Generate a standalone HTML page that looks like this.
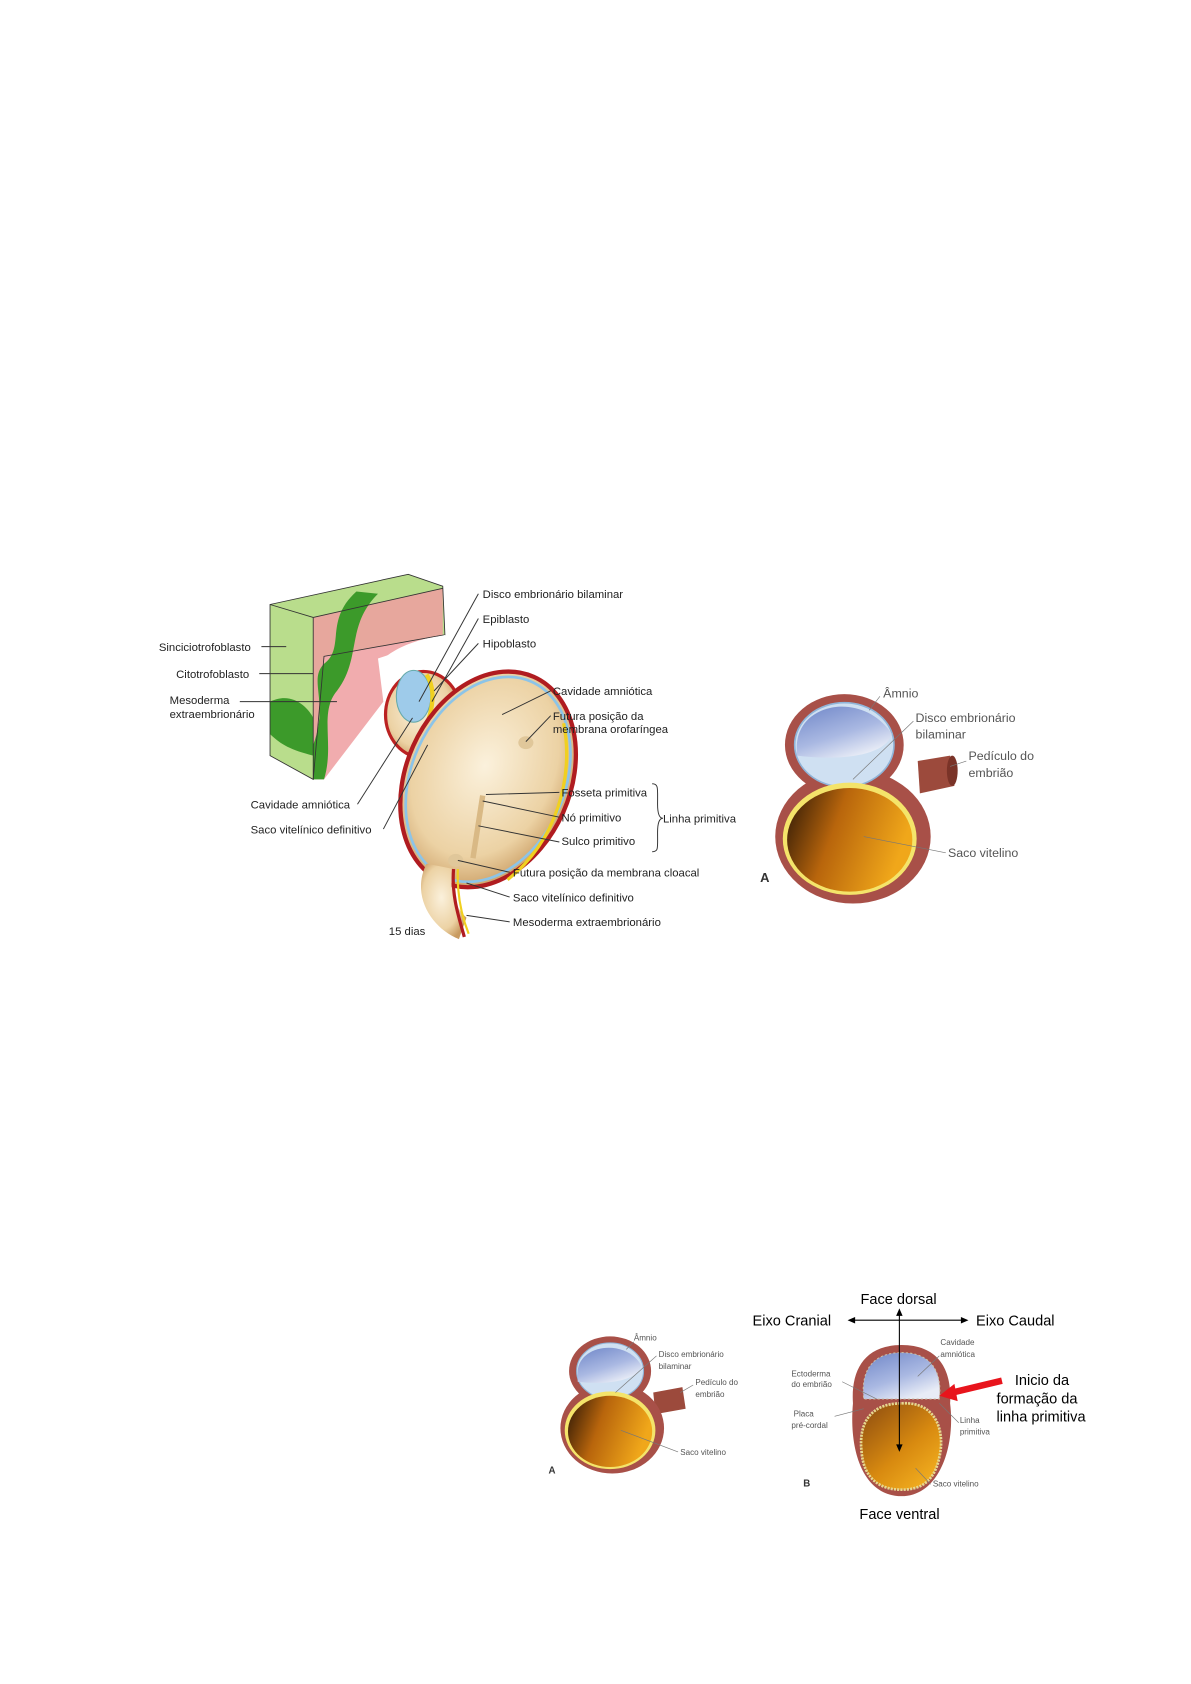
<!DOCTYPE html>
<html><head><meta charset="utf-8"><style>
html,body{margin:0;padding:0;background:#fff;}
svg{display:block;}
text{font-family:"Liberation Sans",Arial,sans-serif;fill:#222;}
.s{font-size:10.5px;}
.xs{font-size:7.5px;fill:#555;}
.m{font-size:13.5px;fill:#000;}
.ln{stroke:#333;stroke-width:0.9;fill:none;}
.lt{stroke:#777;stroke-width:0.6;fill:none;}
</style></head><body>
<svg width="1191" height="1684" viewBox="0 0 1103 1560" xmlns="http://www.w3.org/2000/svg">
<defs>
<radialGradient id="tan" cx="0.45" cy="0.45" r="0.6"><stop offset="0" stop-color="#fbf1dc"/><stop offset="0.7" stop-color="#ecd2a4"/><stop offset="1" stop-color="#c89a60"/></radialGradient>
<linearGradient id="yolk" x1="0" y1="0" x2="1" y2="0.3"><stop offset="0" stop-color="#2a1606"/><stop offset="0.45" stop-color="#b8650c"/><stop offset="1" stop-color="#f0a71a"/></linearGradient>
<linearGradient id="blue" x1="0" y1="0" x2="0.6" y2="1"><stop offset="0" stop-color="#6f86c8"/><stop offset="0.6" stop-color="#a9b8e2"/><stop offset="1" stop-color="#e8ecf6"/></linearGradient>
<linearGradient id="yolkB" x1="0" y1="0" x2="0.8" y2="1"><stop offset="0" stop-color="#8a4a10"/><stop offset="0.6" stop-color="#d88a10"/><stop offset="1" stop-color="#f3b020"/></linearGradient>
</defs>

<!-- block -->
<polygon points="250,560 378,532 410,543 412,588 300,608 290,722 250,700" fill="#b9dd8c"/>
<polygon points="290,572 410,545 410,590 350,610 355,650 300,722 290,722" fill="#ef9ea0" opacity="0.85"/>
<path d="M330,548 C300,575 320,600 300,615 C285,630 305,650 290,690 L290,722 L300,722 C310,690 295,660 312,640 C335,610 320,580 350,550 Z" fill="#3c9a2a"/>
<path d="M250,650 C270,640 285,655 290,665 L290,700 C270,695 260,690 250,680 Z" fill="#3c9a2a"/>
<line x1="290" y1="572" x2="290" y2="722" stroke="#333" stroke-width="0.8"/>
<line x1="250" y1="560" x2="290" y2="572" stroke="#333" stroke-width="0.8"/>
<line x1="290" y1="572" x2="410" y2="545" stroke="#333" stroke-width="0.8"/>
<polygon points="250,560 378,532 410,543 412,588 300,608 290,722 250,700" fill="none" stroke="#333" stroke-width="0.8"/>
<path d="M355,610 C380,590 410,590 412,588 L412,610 C390,612 370,640 355,650 Z" fill="#fff"/>
<!-- small sphere -->
<ellipse cx="392" cy="662" rx="35" ry="40" fill="url(#tan)" stroke="#b22" stroke-width="3"/>
<ellipse cx="383" cy="645" rx="16" ry="24" fill="#9ecbea" stroke="#6aa" stroke-width="1"/>
<path d="M395,625 C405,640 400,665 390,680" stroke="#f0d020" stroke-width="4" fill="none"/>
<!-- big oval -->
<ellipse cx="452" cy="722" rx="76" ry="104" transform="rotate(24 452 722)" fill="url(#tan)" stroke="#b01c20" stroke-width="4"/>
<ellipse cx="452" cy="722" rx="71" ry="99" transform="rotate(24 452 722)" fill="none" stroke="#8cc4e8" stroke-width="2.5"/>
<path d="M522,670 C532,720 515,780 470,815" stroke="#f0d020" stroke-width="3" fill="none"/>
<!-- tail -->
<path d="M395,800 C380,830 400,860 425,870 L432,850 C420,840 415,820 420,805 Z" fill="url(#tan)"/>
<path d="M420,805 C418,830 425,850 430,868" stroke="#b01c20" stroke-width="3" fill="none"/>
<path d="M424,805 C423,830 428,850 434,865" stroke="#f0d020" stroke-width="2" fill="none"/>
<!-- primitive line -->
<line x1="447" y1="737" x2="438" y2="795" stroke="#d9b985" stroke-width="5"/>
<ellipse cx="487" cy="688" rx="7" ry="6" fill="#e0c79a"/>
<ellipse cx="422" cy="797" rx="7" ry="6" fill="#e0c79a"/>

<!-- leader lines -->
<line class="ln" x1="443" y1="550" x2="388" y2="650"/>
<line class="ln" x1="443" y1="573" x2="400" y2="650"/>
<line class="ln" x1="443" y1="596" x2="402" y2="640"/>
<line class="ln" x1="242" y1="599" x2="265" y2="599"/>
<line class="ln" x1="240" y1="624" x2="290" y2="624"/>
<line class="ln" x1="222" y1="650" x2="312" y2="650"/>
<path class="ln" d="M331,745 L382,665"/>
<path class="ln" d="M355,768 L396,690"/>
<line class="ln" x1="510" y1="640" x2="465" y2="662"/>
<line class="ln" x1="510" y1="663" x2="487" y2="687"/>
<line class="ln" x1="518" y1="734" x2="450" y2="736"/>
<line class="ln" x1="518" y1="757" x2="447" y2="742"/>
<line class="ln" x1="518" y1="780" x2="443" y2="765"/>
<line class="ln" x1="472" y1="808" x2="424" y2="797"/>
<line class="ln" x1="472" y1="831" x2="432" y2="818"/>
<line class="ln" x1="472" y1="854" x2="432" y2="848"/>
<path class="ln" d="M604,726 C610,726 609,730 609,745 C609,755 611,758 614,758 C611,758 609,761 609,771 C609,786 610,789 604,789"/>

<text class="s" x="447" y="554">Disco embrionário bilaminar</text>
<text class="s" x="447" y="577">Epiblasto</text>
<text class="s" x="447" y="600">Hipoblasto</text>
<text class="s" x="147" y="603">Sinciciotrofoblasto</text>
<text class="s" x="163" y="628">Citotrofoblasto</text>
<text class="s" x="157" y="652">Mesoderma</text>
<text class="s" x="157" y="665">extraembrionário</text>
<text class="s" x="232" y="749">Cavidade amniótica</text>
<text class="s" x="232" y="772">Saco vitelínico definitivo</text>
<text class="s" x="512" y="644">Cavidade amniótica</text>
<text class="s" x="512" y="667">Futura posição da</text>
<text class="s" x="512" y="679">membrana orofaríngea</text>
<text class="s" x="520" y="738">Fosseta primitiva</text>
<text class="s" x="520" y="761">Nó primitivo</text>
<text class="s" x="520" y="783">Sulco primitivo</text>
<text class="s" x="614" y="762">Linha primitiva</text>
<text class="s" x="475" y="812">Futura posição da membrana cloacal</text>
<text class="s" x="475" y="835">Saco vitelínico definitivo</text>
<text class="s" x="475" y="858">Mesoderma extraembrionário</text>
<text class="s" x="360" y="866">15 dias</text>

<!-- Top right figure A -->
<path d="M850,705 L880,700 L884,728 L852,735 Z" fill="#9c4a3c"/>
<ellipse cx="882" cy="714" rx="5" ry="14" fill="#7a3328"/>
<ellipse cx="790" cy="775" rx="72" ry="62" fill="#a85048"/>
<ellipse cx="782" cy="690" rx="55" ry="47" fill="#a85048"/>
<ellipse cx="782" cy="690" rx="46" ry="39" fill="#cfe0f2" stroke="#8fb4d8" stroke-width="1.5"/>
<path d="M738,690 C740,650 800,640 826,680 C820,700 780,705 738,700 Z" fill="url(#blue)"/>
<ellipse cx="787" cy="777" rx="62" ry="52" fill="#f4e46a"/>
<ellipse cx="787" cy="778" rx="58" ry="48" fill="url(#yolk)"/>
<line class="lt" x1="815" y1="645" x2="805" y2="658"/>
<line class="lt" x1="846" y1="668" x2="790" y2="722"/>
<line class="lt" x1="895" y1="705" x2="880" y2="710"/>
<line class="lt" x1="876" y1="790" x2="800" y2="775"/>
<text style="font-size:11.5px;fill:#555" x="818" y="646">Âmnio</text>
<text style="font-size:11.5px;fill:#555" x="848" y="669">Disco embrionário</text>
<text style="font-size:11.5px;fill:#555" x="848" y="684">bilaminar</text>
<text style="font-size:11.5px;fill:#555" x="897" y="704">Pedículo do</text>
<text style="font-size:11.5px;fill:#555" x="897" y="720">embrião</text>
<text style="font-size:11.5px;fill:#555" x="878" y="794">Saco vitelino</text>
<text style="font-size:12px;font-weight:bold;fill:#333" x="704" y="817">A</text>

<!-- Bottom A -->
<path d="M605,1290 L632,1285 L635,1305 L607,1310 Z" fill="#9c4a3c"/>
<ellipse cx="567" cy="1323" rx="48" ry="42" fill="#a85048"/>
<ellipse cx="565" cy="1270" rx="38" ry="32" fill="#a85048"/>
<ellipse cx="565" cy="1270" rx="31" ry="26" fill="#cfe0f2" stroke="#8fb4d8"/>
<path d="M535,1270 C537,1245 580,1240 594,1265 C590,1280 560,1283 535,1280 Z" fill="url(#blue)"/>
<ellipse cx="565" cy="1325" rx="42" ry="36" fill="#f4e46a"/>
<ellipse cx="565" cy="1326" rx="39" ry="33" fill="url(#yolk)"/>
<line class="lt" x1="587" y1="1243" x2="580" y2="1250"/>
<line class="lt" x1="608" y1="1256" x2="570" y2="1290"/>
<line class="lt" x1="642" y1="1283" x2="630" y2="1290"/>
<line class="lt" x1="628" y1="1345" x2="575" y2="1325"/>
<text class="xs" x="587" y="1242">Âmnio</text>
<text class="xs" x="610" y="1257">Disco embrionário</text>
<text class="xs" x="610" y="1268">bilaminar</text>
<text class="xs" x="644" y="1283">Pedículo do</text>
<text class="xs" x="644" y="1294">embrião</text>
<text class="xs" x="630" y="1348">Saco vitelino</text>
<text style="font-size:9px;font-weight:bold;fill:#333" x="508" y="1365">A</text>

<!-- Bottom B -->
<path d="M835,1246 C870,1246 882,1270 880,1300 C885,1340 870,1386 835,1386 C800,1386 786,1345 790,1300 C788,1270 800,1246 835,1246 Z" fill="#a85048"/>
<path d="M835,1253 C862,1253 873,1270 870,1296 L800,1296 C797,1270 808,1253 835,1253 Z" fill="url(#blue)" stroke="#c9c0a8" stroke-dasharray="2 2"/>
<path d="M835,1300 C870,1298 875,1330 870,1350 C865,1375 850,1380 835,1380 C815,1380 800,1370 798,1345 C795,1320 805,1300 835,1300 Z" fill="url(#yolkB)" stroke="#e6d890" stroke-width="2.5" stroke-dasharray="2 1"/>
<line x1="833" y1="1218" x2="833" y2="1340" stroke="#000" stroke-width="1"/>
<polygon points="833,1212 830,1219 836,1219" fill="#000"/>
<polygon points="833,1345 830,1338 836,1338" fill="#000"/>
<line x1="790" y1="1223" x2="892" y2="1223" stroke="#000" stroke-width="1"/>
<polygon points="785,1223 792,1220 792,1226" fill="#000"/>
<polygon points="897,1223 890,1220 890,1226" fill="#000"/>
<line x1="928" y1="1279" x2="882" y2="1290" stroke="#e8141c" stroke-width="6"/>
<polygon points="870,1293 884,1282 887,1298" fill="#e8141c"/>
<line class="lt" x1="870" y1="1256" x2="850" y2="1275"/>
<line class="lt" x1="780" y1="1280" x2="812" y2="1296"/>
<line class="lt" x1="773" y1="1312" x2="800" y2="1305"/>
<line class="lt" x1="888" y1="1318" x2="870" y2="1300"/>
<line class="lt" x1="862" y1="1375" x2="848" y2="1360"/>
<text class="m" x="797" y="1208">Face dorsal</text>
<text class="m" x="697" y="1228">Eixo Cranial</text>
<text class="m" x="904" y="1228">Eixo Caudal</text>
<text class="m" x="796" y="1407">Face ventral</text>
<text class="m" x="940" y="1283">Inicio da</text>
<text class="m" x="923" y="1300">formação da</text>
<text class="m" x="923" y="1317">linha primitiva</text>
<text class="xs" x="871" y="1246">Cavidade</text>
<text class="xs" x="871" y="1257">amniótica</text>
<text class="xs" x="733" y="1275">Ectoderma</text>
<text class="xs" x="733" y="1285">do embrião</text>
<text class="xs" x="735" y="1312">Placa</text>
<text class="xs" x="733" y="1323">pré-cordal</text>
<text class="xs" x="889" y="1318">Linha</text>
<text class="xs" x="889" y="1329">primitiva</text>
<text class="xs" x="864" y="1377">Saco vitelino</text>
<text style="font-size:9px;font-weight:bold;fill:#333" x="744" y="1377">B</text>
</svg>
</body></html>
